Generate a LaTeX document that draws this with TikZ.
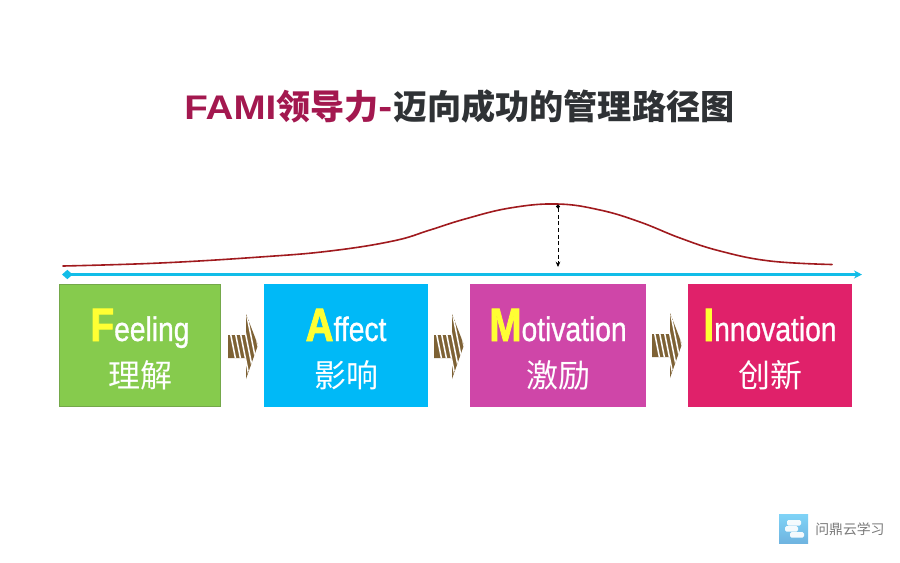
\documentclass[tikz,border=0pt]{standalone}
\usepackage{fontspec}
\setmainfont{Liberation Sans}
\newfontfamily\cjk{Noto Sans CJK SC}
\newfontfamily\titlelatin{Liberation Sans Bold}
\usetikzlibrary{arrows.meta}
\definecolor{titleRed}{HTML}{A3184F}
\definecolor{titleDark}{HTML}{2F3235}
\definecolor{boxGreen}{HTML}{86CB4D}
\definecolor{boxGreenEdge}{HTML}{74A84A}
\definecolor{boxBlue}{HTML}{00B9F7}
\definecolor{boxPink}{HTML}{CF46A8}
\definecolor{boxRed}{HTML}{E0216A}
\definecolor{letterYellow}{HTML}{FFFF33}
\definecolor{axisBlue}{HTML}{12BDE8}
\definecolor{curveRed}{HTML}{A01A1E}
\definecolor{arrowBrown}{HTML}{7E6235}
\definecolor{logoTop}{HTML}{7FD3F7}
\definecolor{logoBottom}{HTML}{6FB4E0}
\definecolor{logoText}{HTML}{7A7A7A}
\newcommand{\heavytext}[2]{\special{pdf:code q 2 Tr #1 w}#2\special{pdf:code Q}}
\tikzset{
  x=0.75pt,y=-0.75pt,
  stagebox/.style={inner sep=0pt,outer sep=0pt},
  latinlabel/.style={anchor=base,inner sep=0pt,text=white,font=\fontsize{25.5pt}{28pt}\selectfont},
  cnlabel/.style={anchor=center,inner sep=0pt,text=white,font=\cjk\fontsize{24pt}{28pt}\selectfont},
  hatcharrow/.pic={
    \path[fill=arrowBrown] (0,-11)--(18,-11)--(18,-32)--(30,-1)--(18,33)--(18,12)--(0,12)--cycle;
    \begin{scope}
      \clip (0,-11)--(18,-11)--(18,-32)--(30,-1)--(18,33)--(18,12)--(0,12)--cycle;
      \foreach \s in {4,9,...,29}{
        \draw[white,line width=1.15pt] (\s-5,-30)--(\s+7,30);
      }
    \end{scope}
  }
}
\newcommand{\bigletter}[1]{{\titlelatin\fontsize{35pt}{36pt}\selectfont\color{letterYellow}\heavytext{0.7}{#1}}}
\newcommand{\restword}[1]{\heavytext{0.25}{#1}}
\begin{document}
\begin{tikzpicture}
\useasboundingbox[fill=white] (0,0) rectangle (900,562);

% title
\node[anchor=west,inner sep=0pt,font=\cjk\bfseries\fontsize{25.6pt}{28pt}\selectfont] (title) at (184,106)
  {\textcolor{titleRed}{\scalebox{1.13}[1]{\titlelatin FAMI}领导力\scalebox{1.1}[1]{-}}\textcolor{titleDark}{迈向成功的管理路径图}};

% curve
\draw[curveRed,line width=1.2pt,line cap=round] plot[smooth,tension=0.7] coordinates
  {(63,266) (160,263) (260,257) (330,251) (393,241) (430,230) (465,219) (510,208) (557,204) (600,210) (640,222) (680,238) (720,251) (770,261) (832,264.5)};

% axis
\coordinate (axisL) at (62,274.5);
\coordinate (axisR) at (862,274.5);
\draw[axisBlue,line width=1.7pt,{Diamond[length=8pt,width=7pt]}-{Stealth[length=6pt,width=6pt]}] (axisL)--(axisR);

% dotted marker
\coordinate (peak) at (558,204.5);
\coordinate (peakFoot) at (558,267);
\draw[black,line width=0.6pt,densely dashed,{Circle[length=3pt]}-{Stealth[length=4pt,width=3.5pt]}] (peak)--(peakFoot);

% boxes
\node[stagebox,fill=boxGreen,draw=boxGreenEdge,line width=0.8pt,minimum width=120.5pt,minimum height=91pt] (feeling) at (140,345.5) {};
\node[stagebox,fill=boxBlue,minimum width=123pt,minimum height=92.25pt] (affect) at (346,345.5) {};
\node[stagebox,fill=boxPink,minimum width=132pt,minimum height=92.25pt] (motivation) at (558,345.5) {};
\node[stagebox,fill=boxRed,minimum width=123pt,minimum height=92.25pt] (innovation) at (770,345.5) {};

% labels
\node[latinlabel] (t1) at (140,341) {\scalebox{.83}[1]{\bigletter{F}\restword{eeling}}};
\node[cnlabel] (c1) at (140,375) {理解};
\node[latinlabel] (t2) at (346,341) {\scalebox{.83}[1]{\bigletter{A}\restword{ffect}}};
\node[cnlabel] (c2) at (346,375) {影响};
\node[latinlabel] (t3) at (558,341) {\scalebox{.83}[1]{\bigletter{M}\restword{otivation}}};
\node[cnlabel] (c3) at (558,375) {激励};
\node[latinlabel] (t4) at (770,341) {\scalebox{.83}[1]{\bigletter{I}\restword{nnovation}}};
\node[cnlabel] (c4) at (770,375) {创新};

% arrows between boxes
\pic at (228,346) {hatcharrow};
\pic at (434,346) {hatcharrow};
\pic at (652,345) {hatcharrow};

% logo
\shade[top color=logoTop,bottom color=logoBottom] (779,514) rectangle (808,543);
\fill[white,opacity=.92,rounded corners=1pt] (787,520) rectangle (801,525.5);
\fill[white,opacity=.92,rounded corners=1pt] (785,526.2) rectangle (798,531.5);
\fill[white,opacity=.92,rounded corners=1pt] (790,532.2) rectangle (804,537.5);
\node[anchor=west,inner sep=0pt,text=logoText,font=\cjk\fontsize{10.4pt}{12pt}\selectfont] (logoLabel) at (815,529) {问鼎云学习};
\end{tikzpicture}
\end{document}
